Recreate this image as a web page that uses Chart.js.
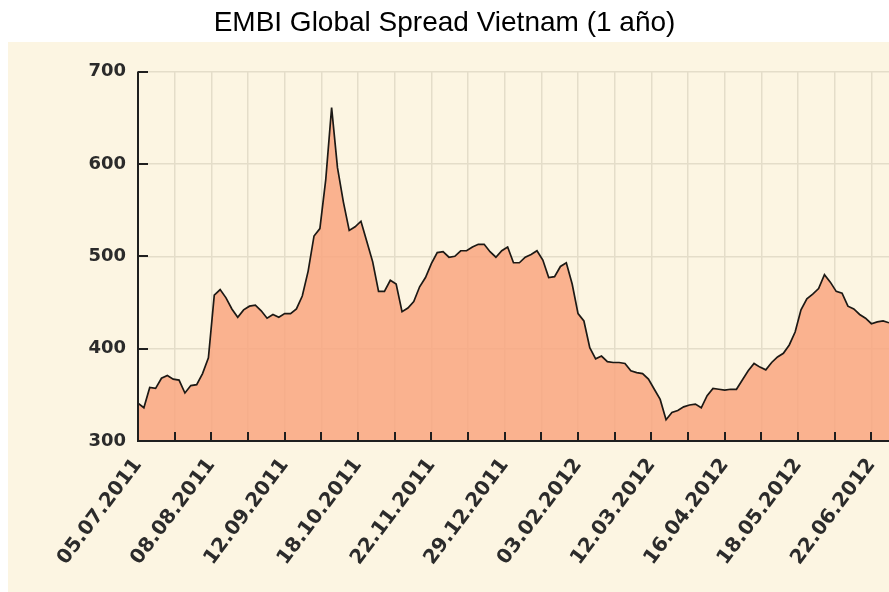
<!DOCTYPE html>
<html>
<head>
<meta charset="utf-8">
<script src="https://cdn.jsdelivr.net/npm/chart.js@4"></script>
<style>
  html, body { margin: 0; padding: 0; background: #fff; }
  canvas { display: block; }
</style>
</head>
<body>
<canvas id="chart" width="889" height="592"></canvas>
<script>
const chartTitle = 'EMBI Global Spread Vietnam (1 año)';
const dateLabels = ['05.07.2011', '08.08.2011', '12.09.2011', '18.10.2011', '22.11.2011', '29.12.2011',
                    '03.02.2012', '12.03.2012', '16.04.2012', '18.05.2012', '22.06.2012'];
const yTicks = [300, 400, 500, 600, 700];
const daysPerLabel = 25;   // trading days between two date labels
const daysPerSample = 2;   // one value read every 2 trading days

// spread in basis points
const spread = [
  341, 336, 358, 357, 368, 371, 367, 366, 352, 360,
  361, 373, 390, 458, 464, 455, 443, 434, 442, 446,
  447, 441, 433, 437, 434, 438, 438, 443, 457, 484,
  522, 530, 583, 661, 596, 559, 528, 532, 538, 516,
  494, 462, 462, 474, 470, 440, 444, 451, 467, 477,
  492, 504, 505, 499, 500, 506, 506, 510, 513, 513,
  505, 499, 506, 510, 493, 493, 499, 502, 506, 496,
  477, 478, 489, 493, 470, 438, 430, 401, 389, 392,
  386, 385, 385, 384, 376, 374, 373, 367, 356, 345,
  323, 331, 333, 337, 339, 340, 336, 349, 357, 356,
  355, 356, 356, 366, 376, 384, 380, 377, 385, 391,
  395, 404, 418, 442, 454, 459, 465, 480, 472, 462,
  460, 446, 443, 437, 433, 427, 429, 430, 428
];

const points = spread.map((v, i) => ({ x: i * daysPerSample, y: v }));

// a tick every half label step
const xTicks = [];
for (let i = 0; i < dateLabels.length * 2 - 1; i++) {
  xTicks.push(i * daysPerLabel / 2);
}

const gridColor = '#e4ddc9';

// cream panel behind the chart, then the axes with inward ticks on top of the area
const paper = {
  id: 'paper',
  beforeDraw(chart) {
    const { ctx, width, height } = chart;
    ctx.save();
    ctx.fillStyle = '#ffffff';
    ctx.fillRect(0, 0, width, height);
    ctx.fillStyle = '#fcf5e2';
    ctx.fillRect(8, 42, width - 8, height - 42);
    ctx.restore();
  },
  afterDatasetsDraw(chart) {
    const { ctx, chartArea: a, scales: { x, y } } = chart;
    ctx.save();
    ctx.strokeStyle = '#1f1f1f';
    ctx.lineWidth = 2;
    ctx.beginPath();
    ctx.moveTo(a.left, a.top);
    ctx.lineTo(a.left, a.bottom);
    ctx.lineTo(a.right, a.bottom);
    x.ticks.forEach(t => {
      const px = Math.round(x.getPixelForValue(t.value));
      ctx.moveTo(px, a.bottom);
      ctx.lineTo(px, a.bottom - 9);
    });
    y.ticks.forEach(t => {
      const py = Math.round(y.getPixelForValue(t.value));
      ctx.moveTo(a.left, py);
      ctx.lineTo(a.left + 10, py);
    });
    ctx.stroke();
    ctx.restore();
  }
};

const ctx = document.getElementById('chart').getContext('2d');

new Chart(ctx, {
  type: 'line',
  data: {
    datasets: [{
      data: points,
      borderColor: '#1c1915',
      borderWidth: 1.7,
      backgroundColor: 'rgba(249, 166, 128, 0.85)',
      fill: 'start',
      pointRadius: 0,
      tension: 0
    }]
  },
  options: {
    responsive: false,
    animation: false,
    layout: { padding: 0 },
    plugins: {
      legend: { display: false },
      tooltip: { enabled: false },
      title: {
        display: true,
        text: chartTitle,
        color: '#000',
        font: { family: "'Liberation Sans', Arial, sans-serif", size: 28, weight: 'normal' },
        padding: { top: 6, bottom: 32 }
      }
    },
    scales: {
      x: {
        type: 'linear',
        min: 0,
        max: 256,
        afterBuildTicks: s => { s.ticks = xTicks.map(v => ({ value: v })); },
        afterFit: s => { s.paddingLeft = 0; s.paddingRight = 0; s.height = 151; },
        grid: { color: gridColor, lineWidth: 1.5, drawTicks: false },
        border: { display: false },
        ticks: {
          autoSkip: false,
          minRotation: 53,
          maxRotation: 53,
          padding: 13,
          color: '#2b2b2b',
          font: { family: 'DejaVu Sans', weight: 'bold', size: 20 },
          callback: v => (v % daysPerLabel === 0 ? dateLabels[v / daysPerLabel] : '')
        }
      },
      y: {
        min: 300,
        max: 700,
        afterBuildTicks: s => { s.ticks = yTicks.map(v => ({ value: v })); },
        afterFit: s => { s.width = 138; },
        grid: { color: gridColor, lineWidth: 1.5, drawTicks: false },
        border: { display: false },
        ticks: {
          padding: 12,
          color: '#2b2b2b',
          font: { family: 'DejaVu Sans', weight: 'bold', size: 18 }
        }
      }
    }
  },
  plugins: [paper]
});
</script>
</body>
</html>
